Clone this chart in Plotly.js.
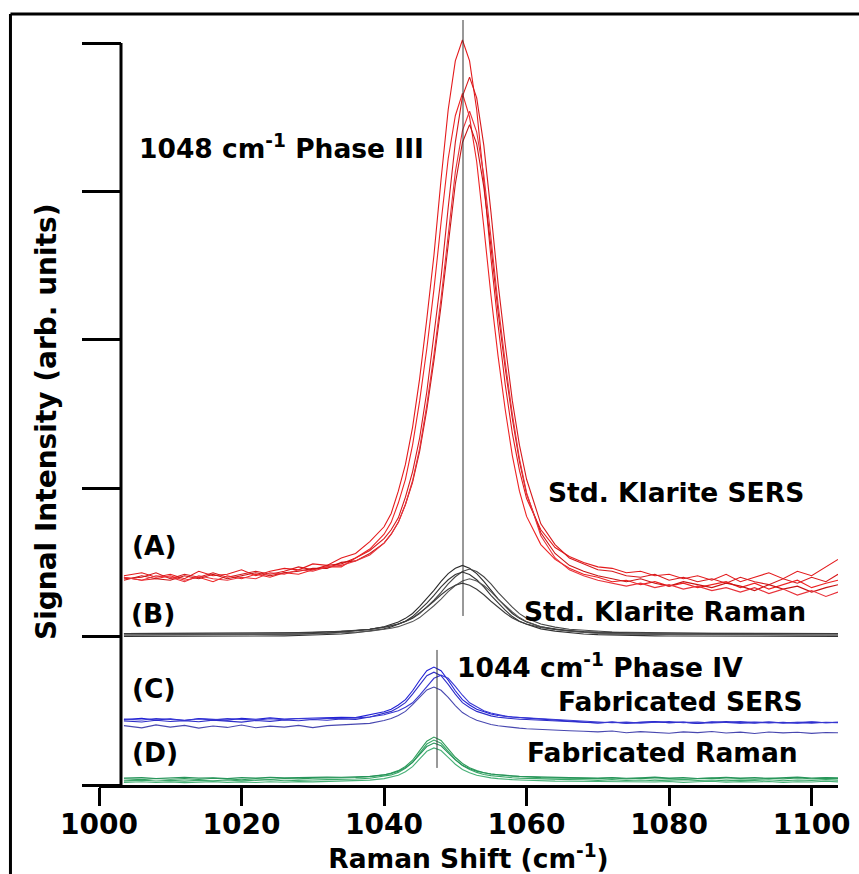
<!DOCTYPE html>
<html>
<head>
<meta charset="utf-8">
<script src="https://cdn.plot.ly/plotly-3.0.1.min.js"></script>
<style>
  html, body { margin: 0; padding: 0; background: #ffffff; }
  #chart { width: 859px; height: 874px; }
</style>
</head>
<body>
<div id="chart"></div>
<script>
// Raman shift grid (cm^-1)
const ramanShift = [1003.5,1006,1008,1010,1012,1014,1016,1018,1020,1022,1024,1026,1028,1030,1032,1034,1036,1038,
  1040,1041,1042,1043,1044,1045,1046,1047,1048,1049,1050,1051,1052,1053,1054,1055,1056,1057,1058,1059,1060,
  1062,1064,1066,1068,1070,1072,1074,1076,1078,1080,1082,1084,1086,1088,1090,1092,1094,1096,1098,1100,1102,1103.7];

// (A) Std. Klarite SERS
const klariteSers1 = [1.41,1.43,1.40,1.42,1.39,1.44,1.41,1.42,1.45,1.41,1.44,1.46,1.45,1.49,1.48,1.53,1.56,1.64,
  1.74,1.83,1.98,2.16,2.41,2.74,3.14,3.57,4.08,4.55,4.88,5.02,4.88,4.55,4.07,3.55,3.10,2.70,2.37,2.12,1.93,
  1.72,1.60,1.54,1.50,1.47,1.46,1.43,1.44,1.41,1.42,1.39,1.41,1.38,1.42,1.37,1.40,1.43,1.39,1.44,1.41,1.47,1.52];
const klariteSers2 = [1.39,1.40,1.43,1.39,1.42,1.40,1.43,1.40,1.42,1.44,1.42,1.44,1.47,1.45,1.48,1.49,1.53,1.58,
  1.66,1.72,1.80,1.94,2.11,2.34,2.65,3.02,3.42,3.89,4.33,4.64,4.77,4.63,4.31,3.86,3.38,2.97,2.59,2.29,2.06,
  1.76,1.62,1.53,1.49,1.45,1.44,1.41,1.40,1.42,1.38,1.40,1.37,1.39,1.36,1.40,1.37,1.35,1.39,1.36,1.40,1.37,1.42];
const klariteSers3 = [1.40,1.38,1.39,1.41,1.38,1.40,1.37,1.41,1.39,1.42,1.40,1.43,1.42,1.45,1.47,1.47,1.53,1.59,
  1.69,1.77,1.90,2.06,2.29,2.59,2.94,3.34,3.79,4.22,4.51,4.66,4.50,4.20,3.76,3.30,2.89,2.53,2.22,1.98,1.81,
  1.62,1.52,1.46,1.42,1.40,1.37,1.38,1.35,1.37,1.34,1.36,1.33,1.35,1.37,1.33,1.36,1.32,1.35,1.38,1.33,1.36,1.38];
const klariteSers4 = [1.38,1.41,1.39,1.38,1.41,1.39,1.42,1.39,1.41,1.43,1.41,1.43,1.44,1.46,1.46,1.50,1.51,1.56,
  1.63,1.69,1.77,1.89,2.04,2.25,2.53,2.86,3.23,3.66,4.05,4.33,4.45,4.32,4.03,3.63,3.19,2.81,2.47,2.18,1.96,
  1.70,1.56,1.48,1.44,1.41,1.39,1.37,1.39,1.36,1.34,1.37,1.35,1.33,1.36,1.34,1.31,1.35,1.32,1.34,1.30,1.33,1.35];
const klariteSers5 = [1.40,1.38,1.41,1.40,1.37,1.41,1.39,1.38,1.40,1.39,1.43,1.42,1.45,1.44,1.47,1.48,1.51,1.55,
  1.63,1.69,1.77,1.89,2.05,2.27,2.56,2.90,3.28,3.72,4.13,4.41,4.54,4.40,4.11,3.69,3.24,2.85,2.50,2.20,1.97,
  1.68,1.53,1.45,1.41,1.38,1.36,1.34,1.36,1.33,1.35,1.32,1.34,1.31,1.33,1.30,1.33,1.29,1.32,1.28,1.31,1.27,1.30];

// (B) Std. Klarite Raman
const klariteRaman1 = [1.011,1.011,1.012,1.012,1.012,1.013,1.013,1.014,1.014,1.015,1.015,1.016,1.018,1.020,1.024,1.030,1.038,1.050,
  1.066,1.081,1.099,1.123,1.156,1.203,1.254,1.311,1.372,1.424,1.461,1.480,1.461,1.424,1.372,1.311,1.254,1.203,1.156,1.123,1.099,
  1.066,1.050,1.038,1.030,1.024,1.020,1.018,1.016,1.015,1.015,1.014,1.014,1.013,1.013,1.012,1.012,1.012,1.011,1.011,1.011,1.011,1.011];
const klariteRaman2 = [1.021,1.021,1.022,1.022,1.022,1.023,1.023,1.023,1.023,1.024,1.024,1.025,1.027,1.029,1.031,1.035,1.042,1.050,
  1.064,1.072,1.085,1.103,1.124,1.155,1.198,1.246,1.298,1.355,1.403,1.438,1.455,1.438,1.403,1.355,1.298,1.246,1.198,1.155,1.124,
  1.085,1.064,1.050,1.042,1.035,1.031,1.029,1.027,1.025,1.024,1.023,1.023,1.022,1.022,1.022,1.021,1.021,1.021,1.021,1.021,1.021,1.021];
const klariteRaman3 = [1.001,1.001,1.002,1.002,1.002,1.002,1.003,1.003,1.003,1.004,1.004,1.005,1.007,1.010,1.013,1.018,1.026,1.037,
  1.052,1.065,1.083,1.104,1.135,1.178,1.226,1.278,1.335,1.383,1.418,1.435,1.418,1.383,1.335,1.278,1.226,1.178,1.135,1.104,1.083,
  1.052,1.037,1.026,1.018,1.013,1.010,1.008,1.006,1.005,1.004,1.004,1.003,1.003,1.003,1.002,1.002,1.002,1.002,1.001,1.001,1.001,1.001];
const klariteRaman4 = [1.011,1.011,1.011,1.012,1.012,1.012,1.012,1.013,1.013,1.013,1.014,1.015,1.016,1.018,1.020,1.023,1.029,1.037,
  1.048,1.056,1.067,1.082,1.101,1.128,1.166,1.208,1.253,1.303,1.344,1.375,1.390,1.375,1.344,1.303,1.253,1.208,1.166,1.128,1.101,
  1.067,1.048,1.037,1.029,1.023,1.020,1.018,1.016,1.015,1.014,1.013,1.013,1.013,1.013,1.012,1.012,1.012,1.012,1.011,1.011,1.011,1.011];
const klariteRaman5 = [1.021,1.021,1.021,1.021,1.021,1.022,1.022,1.022,1.022,1.023,1.023,1.024,1.025,1.027,1.030,1.034,1.040,1.049,
  1.061,1.071,1.085,1.102,1.125,1.159,1.197,1.238,1.282,1.319,1.346,1.360,1.346,1.319,1.282,1.238,1.197,1.159,1.125,1.102,1.085,
  1.061,1.049,1.040,1.034,1.030,1.027,1.025,1.024,1.023,1.023,1.022,1.022,1.022,1.022,1.021,1.021,1.021,1.021,1.021,1.021,1.021,1.021];

// (C) Fabricated SERS
const fabSers1 = [0.441,0.450,0.437,0.446,0.435,0.448,0.442,0.437,0.449,0.443,0.452,0.445,0.448,0.450,0.455,0.457,0.454,0.473,
  0.493,0.511,0.539,0.575,0.635,0.706,0.770,0.795,0.770,0.706,0.635,0.575,0.539,0.511,0.493,0.479,0.468,0.461,0.458,0.454,0.451,
  0.444,0.437,0.432,0.426,0.418,0.425,0.416,0.422,0.427,0.419,0.424,0.415,0.426,0.421,0.417,0.425,0.418,0.423,0.416,0.424,0.419,0.422];
const fabSers2 = [0.432,0.425,0.436,0.428,0.434,0.426,0.437,0.431,0.424,0.435,0.429,0.438,0.433,0.441,0.436,0.445,0.442,0.458,
  0.480,0.496,0.522,0.555,0.612,0.678,0.737,0.760,0.737,0.678,0.612,0.555,0.522,0.496,0.480,0.466,0.456,0.450,0.447,0.443,0.441,
  0.437,0.433,0.430,0.427,0.418,0.424,0.417,0.422,0.426,0.419,0.423,0.415,0.421,0.427,0.420,0.416,0.424,0.419,0.422,0.417,0.423,0.420];
const fabSers3 = [0.444,0.438,0.447,0.441,0.436,0.445,0.439,0.447,0.442,0.437,0.446,0.440,0.448,0.443,0.450,0.448,0.452,0.458,
  0.473,0.485,0.500,0.524,0.554,0.605,0.665,0.719,0.740,0.719,0.665,0.605,0.554,0.524,0.500,0.485,0.473,0.464,0.458,0.455,0.452,
  0.446,0.440,0.435,0.430,0.426,0.419,0.424,0.417,0.423,0.428,0.420,0.425,0.418,0.423,0.427,0.420,0.425,0.417,0.422,0.426,0.419,0.423];
const fabSers4 = [0.400,0.385,0.405,0.390,0.402,0.383,0.398,0.388,0.404,0.386,0.397,0.390,0.402,0.387,0.400,0.405,0.408,0.415,
  0.435,0.448,0.469,0.496,0.541,0.594,0.641,0.660,0.638,0.590,0.535,0.488,0.459,0.436,0.421,0.408,0.399,0.392,0.387,0.383,0.379,
  0.373,0.368,0.366,0.362,0.358,0.364,0.352,0.360,0.355,0.349,0.358,0.353,0.361,0.350,0.356,0.347,0.357,0.351,0.355,0.348,0.354,0.352];

// (D) Fabricated Raman
const fabRaman1 = [0.042,0.036,0.044,0.039,0.043,0.037,0.045,0.040,0.035,0.043,0.038,0.044,0.041,0.046,0.047,0.049,0.051,0.056,
  0.068,0.080,0.097,0.125,0.167,0.232,0.295,0.323,0.300,0.244,0.187,0.145,0.116,0.097,0.082,0.074,0.068,0.063,0.060,0.057,0.054,
  0.050,0.048,0.046,0.045,0.043,0.047,0.041,0.045,0.040,0.044,0.038,0.043,0.046,0.040,0.044,0.039,0.045,0.041,0.047,0.042,0.046,0.044];
const fabRaman2 = [0.028,0.033,0.027,0.031,0.026,0.032,0.029,0.034,0.028,0.031,0.035,0.029,0.033,0.034,0.036,0.037,0.040,0.045,
  0.057,0.068,0.085,0.112,0.153,0.216,0.276,0.303,0.281,0.227,0.172,0.131,0.104,0.085,0.071,0.063,0.057,0.052,0.049,0.046,0.044,
  0.040,0.038,0.036,0.035,0.031,0.036,0.030,0.034,0.029,0.033,0.036,0.030,0.034,0.028,0.033,0.031,0.035,0.029,0.034,0.031,0.036,0.033];
const fabRaman3 = [0.047,0.050,0.044,0.048,0.052,0.046,0.049,0.043,0.050,0.047,0.052,0.048,0.051,0.050,0.053,0.052,0.054,0.058,
  0.069,0.078,0.093,0.116,0.152,0.207,0.259,0.283,0.264,0.216,0.169,0.133,0.109,0.093,0.081,0.074,0.069,0.064,0.062,0.059,0.057,
  0.053,0.052,0.050,0.049,0.047,0.051,0.045,0.049,0.053,0.046,0.050,0.044,0.048,0.052,0.046,0.050,0.045,0.049,0.053,0.047,0.051,0.048];
const fabRaman4 = [0.018,0.022,0.017,0.021,0.016,0.020,0.023,0.018,0.021,0.017,0.022,0.019,0.023,0.021,0.024,0.026,0.029,0.033,
  0.043,0.052,0.066,0.089,0.124,0.176,0.227,0.250,0.232,0.186,0.140,0.105,0.082,0.066,0.055,0.048,0.043,0.038,0.036,0.034,0.032,
  0.028,0.026,0.025,0.024,0.021,0.025,0.019,0.023,0.020,0.024,0.018,0.022,0.025,0.019,0.023,0.020,0.024,0.018,0.022,0.020,0.025,0.021];

// Peak marker lines (Raman shift, lower and upper intensity)
const peakMarkX = [1051.08, 1047.43];
const peakMarkLow = [1.139, 0.115];
const peakMarkHigh = [5.155, 0.910];

// Axis ticks
const xTickVals = [1000, 1020, 1040, 1060, 1080, 1100];
const yTickVals = [0, 1, 2, 3, 4, 5];

// ---------- build traces ----------
const groups = [
  { series: [klariteSers1, klariteSers2, klariteSers3, klariteSers4, klariteSers5],
    colors: ['#e41a1c', '#d7191c', '#ee2222', '#c81414', '#e8323a'] },
  { series: [klariteRaman1, klariteRaman2, klariteRaman3, klariteRaman4, klariteRaman5],
    colors: ['#2b2b2b', '#454545', '#333333', '#555555', '#3c3c3c'] },
  { series: [fabSers1, fabSers2, fabSers3, fabSers4],
    colors: ['#1f1fd6', '#2d2dc8', '#3838d2', '#4848b0'] },
  { series: [fabRaman1, fabRaman2, fabRaman3, fabRaman4],
    colors: ['#2e9b5a', '#3aa869', '#27945a', '#48b077'] }
];

const traces = [];
groups.forEach(g => {
  g.series.forEach((ys, i) => {
    traces.push({
      type: 'scatter', mode: 'lines', x: ramanShift, y: ys,
      line: { color: g.colors[i], width: 1.1 },
      hoverinfo: 'skip', showlegend: false
    });
  });
});
peakMarkX.forEach((xv, i) => {
  traces.push({
    type: 'scatter', mode: 'lines', x: [xv, xv], y: [peakMarkLow[i], peakMarkHigh[i]],
    line: { color: '#333333', width: 1 }, hoverinfo: 'skip', showlegend: false
  });
});

const FONT = 'DejaVu Sans, Verdana, sans-serif';
const labelFont = { family: FONT, size: 26.5, color: '#000', weight: 'bold' };

function note(text, x, y, xanchor) {
  return { text: text, x: x, y: y, xref: 'x', yref: 'y', xanchor: xanchor, yanchor: 'middle',
           showarrow: false, font: labelFont };
}

const layout = {
  width: 859, height: 874,
  margin: { l: 99, r: 21, t: 14, b: 89 },
  paper_bgcolor: '#ffffff', plot_bgcolor: '#ffffff',
  showlegend: false,
  xaxis: {
    range: [1000, 1103.7], tickvals: xTickVals, ticktext: xTickVals.map(String),
    ticks: 'outside', ticklen: 18, tickwidth: 3, tickcolor: '#000',
    ticklabelstandoff: -6,
    showline: true, linewidth: 3, linecolor: '#000',
    showgrid: false, zeroline: false,
    tickfont: { family: FONT, size: 28, color: '#000', weight: 'bold' },
    title: { text: 'Raman Shift (cm<sup>-1</sup>)', standoff: 10,
             font: { family: FONT, size: 26.5, color: '#000', weight: 'bold' } }
  },
  yaxis: {
    range: [0, 5.1954], tickvals: yTickVals, showticklabels: false,
    ticks: 'outside', ticklen: 39, tickwidth: 3, tickcolor: '#000',
    anchor: 'free', position: 0.02977, showline: false,
    showgrid: false, zeroline: false
  },
  shapes: [
    // y axis spine from 0 to 5
    { type: 'line', xref: 'paper', yref: 'y', x0: 0.02977, x1: 0.02977, y0: 0, y1: 5,
      line: { color: '#000', width: 3 } },
    // outer frame (top and left)
    { type: 'line', xref: 'paper', yref: 'paper', x0: -0.1198, x1: 1.04, y0: 1, y1: 1,
      line: { color: '#000', width: 3 } },
    { type: 'line', xref: 'paper', yref: 'paper', x0: -0.1198, x1: -0.1198, y0: 1, y1: -0.13,
      line: { color: '#000', width: 3 } }
  ],
  annotations: [
    note('1048 cm<sup>-1</sup> Phase III', 1005.3, 4.30, 'left'),
    note('Std. Klarite SERS', 1099.21, 1.968, 'right'),
    note('(A)', 1004.3, 1.617, 'left'),
    note('(B)', 1004.2, 1.159, 'left'),
    note('Std. Klarite Raman', 1099.49, 1.1725, 'right'),
    note('1044 cm<sup>-1</sup> Phase IV', 1049.96, 0.805, 'left'),
    note('(C)', 1004.4, 0.647, 'left'),
    note('Fabricated SERS', 1099.07, 0.566, 'right'),
    note('(D)', 1004.4, 0.216, 'left'),
    note('Fabricated Raman', 1098.37, 0.216, 'right'),
    { text: 'Signal Intensity (arb. units)', textangle: -90,
      xref: 'paper', yref: 'paper', x: -0.0717, y: 0.4708,
      xanchor: 'center', yanchor: 'middle', showarrow: false,
      font: { family: FONT, size: 28, color: '#000', weight: 'bold' } }
  ]
};

Plotly.newPlot('chart', traces, layout, { displayModeBar: false, staticPlot: true });
</script>
</body>
</html>
